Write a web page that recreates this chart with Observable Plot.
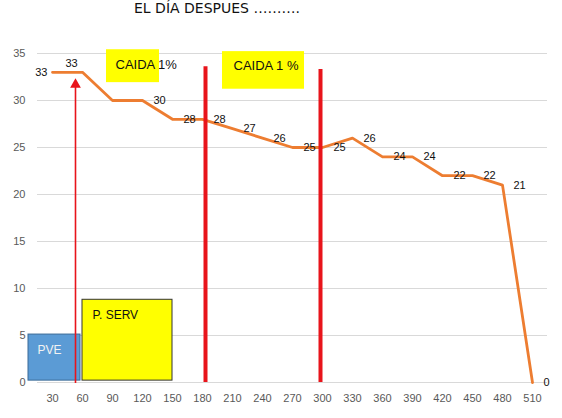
<!DOCTYPE html>
<html>
<head>
<meta charset="utf-8">
<script src="https://cdn.jsdelivr.net/npm/d3@7"></script>
<script src="https://cdn.jsdelivr.net/npm/@observablehq/plot@0.6"></script>
<style>
  body { margin: 0; background: white; }
  #title { height: 30px; line-height: 30px; padding-left: 134px; font: 14px "Comic Sans MS", "DejaVu Sans", sans-serif; color: #111; }
</style>
</head>
<body>
<div id="title">EL DÍA DESPUES ……….</div>
<div id="chart"></div>
<script>
// minutos y valores de la serie
const minutes = [30, 60, 90, 120, 150, 180, 210, 240, 270, 300, 330, 360, 390, 420, 450, 480, 510];
const values = [33, 33, 30, 30, 28, 28, 27, 26, 25, 25, 26, 24, 24, 22, 22, 21, 0];
const yTicks = [0, 5, 10, 15, 20, 25, 30, 35];

// lineas rojas de corte
const cuts = [183, 298];
const cutTops = [33.6, 33.3];

// flecha de inicio
const arrowX = [53];
const arrowTop = [31.4];

// cajas de anotacion
const boxNames = ["CAIDA 1%", "CAIDA 1 %", "PVE", "P. SERV"];
const boxX1 = [84, 200, 6, 60];
const boxX2 = [137, 282, 58, 150];
const boxY1 = [31.9, 31.2, 0.2, 0.2];
const boxY2 = [35.4, 35.2, 5.1, 8.8];
const textX = [93, 211, 15, 70];
const textY = [33.8, 33.7, 3.4, 7.2];

const data = minutes.map((m, i) => ({m, v: values[i], i}));
const boxes = boxNames.map((name, i) => ({name, x1: boxX1[i], x2: boxX2[i], y1: boxY1[i], y2: boxY2[i], tx: textX[i], ty: textY[i]}));
const caida = boxes.slice(0, 2);

let chart = Plot.plot({
  width: 562,
  height: 388,
  marginTop: 23,
  marginBottom: 36,
  marginLeft: 37,
  marginRight: 15,
  style: {fontFamily: "'Liberation Sans', Arial, sans-serif", fontSize: "11px", color: "#595959", background: "white", overflow: "visible"},
  x: {type: "linear", domain: [15, 525], ticks: minutes, tickFormat: d => d, tickSize: 0, tickPadding: 12, label: null},
  y: {domain: [0, 35], ticks: yTicks, tickSize: 0, tickPadding: 12, label: null},
  marks: [
    Plot.ruleY(yTicks, {stroke: "#d9d9d9"}),
    Plot.rect(caida, {x1: "x1", x2: "x2", y1: "y1", y2: "y2", fill: "#ffff00"}),
    Plot.text(caida, {x: "tx", y: "ty", text: "name", textAnchor: "start", fill: "#111", fontSize: 13}),
    Plot.line(data, {x: "m", y: "v", stroke: "#ed7d31", strokeWidth: 2.8}),
    Plot.ruleX(cuts, {x: d => d, y1: 0, y2: (d, i) => cutTops[i], stroke: "#e8141b", strokeWidth: 4}),
    Plot.rect([boxes[2]], {x1: "x1", x2: "x2", y1: "y1", y2: "y2", fill: "#5b9bd5", stroke: "#3a6a97", strokeWidth: 1}),
    Plot.rect([boxes[3]], {x1: "x1", x2: "x2", y1: "y1", y2: "y2", fill: "#ffff00", stroke: "#333", strokeWidth: 1}),
    Plot.ruleX(arrowX, {x: d => d, y1: -0.1, y2: arrowTop[0], stroke: "#e8141b", strokeWidth: 1.6}),
    Plot.dot(arrowX, {x: d => d, y: arrowTop[0] + 0.3, symbol: "triangle", r: 4, fill: "#e8141b"}),
    Plot.text([boxes[2]], {x: "tx", y: "ty", text: "name", textAnchor: "start", fill: "#f2f2f2", fontSize: 12}),
    Plot.text([boxes[3]], {x: "tx", y: "ty", text: "name", textAnchor: "start", fill: "#111", fontSize: 12}),
    // etiquetas de datos
    Plot.text([data[0]], {x: "m", y: "v", text: "v", textAnchor: "end", dx: -5, fill: "#111", fontSize: 11}),
    Plot.text([data[1]], {x: "m", y: "v", text: "v", dx: -11, dy: -9, fill: "#111", fontSize: 11}),
    Plot.text(data.filter(d => d.i >= 3), {x: "m", y: "v", text: "v", textAnchor: "start", dx: 11, fill: "#111", fontSize: 11})
  ]
})

d3.select('#chart').append(() => chart)
</script>
</body>
</html>
